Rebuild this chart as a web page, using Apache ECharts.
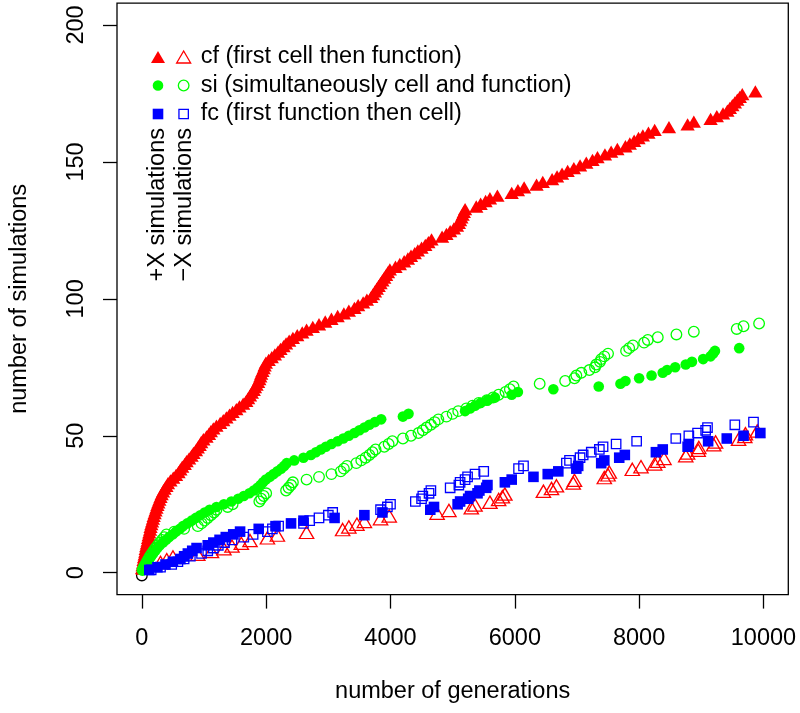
<!DOCTYPE html>
<html><head><meta charset="utf-8">
<script src="https://cdn.jsdelivr.net/npm/echarts@6/dist/echarts.min.js"></script>
<style>html,body{margin:0;padding:0;background:#fff}#c{width:800px;height:713px}</style>
</head><body><div id="c"></div>
<script>
// ---- tick labels ----
const xTicks = [0, 2000, 4000, 6000, 8000, 10000];
const yTicks = [0, 50, 100, 150, 200];

// ---- generation at which each successive simulation was counted ----
const cfPlusGen = [5,12,20,28,35,45,55,62,70,80,92,100,110,120,132,140,152,165,178,190,205,220,235,250,265,282,300,318,340,365,395,
  420,460,505,550,
  590,620,650,690,720,760,800,830,870,900,930,955,
  990,1040,1080,1110,1150,
  1200,1260,1310,1360,1410,
  1460,1520,1570,1630,1680,
  1710,1740,1770,1800,1820,1845,1870,1890,
  1905,1920,1940,1960,1975,1995,
  2040,2090,2140,2190,2230,2280,2320,2370,
  2430,2500,2580,2650,
  2750,2850,2950,3050,3150,
  3250,3330,3420,
  3480,3560,3620,3690,
  3720,3750,3780,3810,3840,3870,3900,3930,3960,3990,
  4080,4150,4220,4280,4330,4390,
  4440,4500,4560,4610,4660,
  4830,4900,4960,5020,5070,5100,5120,5140,5160,5180,5200,
  5380,5450,5530,5600,
  5720,
  5950,6050,6150,
  6350,6450,
  6600,6680,6760,6850,
  6950,7050,7150,
  7250,7330,
  7450,7550,7650,
  7780,7850,7920,7990,8060,8150,8250,
  8480,
  8780,8880,
  9150,9250,9350,
  9420,9460,9500,9540,9580,9620,9660,
  9870];
const cfMinusGen = [30,100,300,400,500,900,1120,1320,1450,1600,1740,2020,2180,2650,3230,3330,3460,3580,3840,3980,
  4750,4940,5300,5360,5600,5740,5800,5840,6460,6590,6670,6940,6960,7440,7500,7520,7890,8030,8250,8300,8400,
  8750,8780,8950,8960,9200,9230,9600,9700,9710,9900];
const siPlusGen = [15,40,65,90,120,150,180,215,250,290,
  340,390,440,500,550,610,660,
  730,800,870,940,1010,1090,
  1200,1320,1440,
  1550,1640,1730,
  1800,1860,1910,1950,1995,
  2060,2120,2180,2240,2290,2330,
  2450,2600,2720,2800,2880,2960,3050,
  3150,3240,3330,3420,3500,3580,3660,3750,
  3850,
  4200,4290,
  5200,5280,5360,5450,5560,5680,
  5950,6050,
  6620,
  7350,7700,7780,8000,8200,8380,8450,8580,8750,8850,9030,9150,9190,9220,9610];
const siMinusGen = [10,30,55,80,105,130,160,190,220,255,290,325,360,395,
  520,680,900,
  960,1010,1060,1110,1160,1200,
  1380,1460,
  1890,1920,1960,2000,
  2320,2360,2400,2430,
  2650,2850,3050,
  3200,3250,3300,
  3450,3530,3600,
  3660,3710,3760,
  3900,3970,4030,
  4200,4330,4450,
  4520,4580,4650,4710,4770,
  4900,5000,5090,
  5220,5320,5420,
  5550,5650,5740,
  5850,5920,5980,
  6400,6810,6960,6990,7070,7200,7290,7310,7370,7390,7440,7500,7790,7840,7900,8080,8140,8300,8600,8880,9570,9680,9930];
const fcPlusGen = [120,250,380,500,620,680,740,810,880,1060,1150,1250,1350,1470,1580,1880,2150,2400,2600,3100,3580,3870,
  4640,4700,5080,5120,5250,5280,5400,5430,5540,5560,
  5840,5950,6300,6530,6700,6990,7020,7390,7440,7680,7770,8270,8380,8780,8800,9110,9410,9680,9950];
const fcMinusGen = [150,300,480,580,680,780,960,1060,1150,1230,1330,1450,1640,1790,2020,2100,2200,2600,2700,2850,3000,3070,
  3840,3950,4000,4400,4500,4520,4620,4650,4960,5100,5120,5200,5240,5360,5500,
  6060,6140,6830,6880,7050,7100,7230,7360,7420,7630,7960,8590,8800,8940,9070,9100,9540,9840];
const originPoint = [[0, -1]];

const legendText = {
  'cf \u2212X': 'cf (first cell then function)',
  'si \u2212X': 'si (simultaneously cell and function)',
  'fc \u2212X': 'fc (first function then cell)'
};

// cumulative count: k-th simulation at its generation
function cumulative(gens) { return gens.map((g, i) => [g, i + 1]); }

const FONT = '"Liberation Sans", Arial, Helvetica, sans-serif';
const FS = 23.5;
const RED = '#ff0000', GREEN = '#00ff00', BLUE = '#0000ff';
const LW = 1.3;
const NONE = 'rgba(0,0,0,0)';

function filled(name, data, symbol, size, color, offset) {
  return { name, type: 'scatter', data, symbol, symbolSize: size, symbolOffset: offset || [0, 0],
    itemStyle: { color, opacity: 1 }, silent: true, animation: false };
}
function open(name, data, symbol, size, color, offset) {
  return { name, type: 'scatter', data, symbol, symbolSize: size, symbolOffset: offset || [0, 0],
    itemStyle: { color: NONE, borderColor: color, borderWidth: LW, opacity: 1 }, silent: true, animation: false };
}

const triA = 'path://M0,0M14,12M7,0L14,12L0,12Z';
const cirA = 'path://M0,0M14,12M1.7,6a5.3,5.3 0 1,0 10.6,0a5.3,5.3 0 1,0 -10.6,0Z';
const sqA  = 'path://M0,0M14,12M1.7,0.7h10.6v10.6h-10.6Z';
const triB = 'path://M0,0M19,12M7,0L14,12L0,12Z';
const cirB = 'path://M0,0M19,12M1.7,6a5.3,5.3 0 1,0 10.6,0a5.3,5.3 0 1,0 -10.6,0Z';
const sqB  = 'path://M0,0M19,12M2.3,1.3h9.4v9.4h-9.4Z';

const plain = (v) => String(v);

const chart = echarts.init(document.getElementById('c'), null, { renderer: 'canvas' });
chart.setOption({
  animation: false,
  backgroundColor: '#fff',
  grid: { left: 113.3, right: 11.7, top: 3.1, bottom: 118.4, show: true, borderColor: '#000', borderWidth: LW },
  xAxis: {
    type: 'value', min: -400, max: 10400,
    name: 'number of generations', nameLocation: 'middle', nameGap: 85,
    nameTextStyle: { fontSize: FS, fontFamily: FONT, color: '#000' },
    axisLine: { show: false, onZero: false },
    axisTick: { show: true, inside: false, length: 14, customValues: xTicks, lineStyle: { color: '#000', width: LW } },
    axisLabel: { customValues: xTicks, formatter: plain, fontSize: FS, fontFamily: FONT, color: '#000', margin: 32 },
    splitLine: { show: false }
  },
  yAxis: {
    type: 'value', min: -8, max: 208,
    name: 'number of simulations', nameLocation: 'middle', nameGap: 85, nameRotate: 90,
    nameTextStyle: { fontSize: FS, fontFamily: FONT, color: '#000' },
    axisLine: { show: false, onZero: false },
    axisTick: { show: true, inside: false, length: 14, customValues: yTicks, lineStyle: { color: '#000', width: LW } },
    axisLabel: { customValues: yTicks, formatter: plain, rotate: 90, fontSize: FS, fontFamily: FONT, color: '#000', margin: 28 },
    splitLine: { show: false }
  },
  legend: [
    {
      orient: 'vertical', left: 151, top: 43, padding: 0, itemGap: 0.5, itemWidth: 14, itemHeight: 12,
      selectedMode: false, formatter: () => ' ',
      textStyle: { fontSize: FS, lineHeight: 28, fontFamily: FONT, color: '#000' },
      data: [
        { name: 'cf +X', icon: triA, itemStyle: { color: RED, borderWidth: 0, opacity: 1 } },
        { name: 'si +X', icon: cirA, itemStyle: { color: GREEN, borderWidth: 0, opacity: 1 } },
        { name: 'fc +X', icon: sqA, itemStyle: { color: BLUE, borderWidth: 0, opacity: 1 } }
      ]
    },
    {
      orient: 'vertical', left: 176, top: 43, padding: 0, itemGap: 0.5, itemWidth: 19, itemHeight: 12,
      selectedMode: false, formatter: (n) => legendText[n],
      textStyle: { fontSize: FS, lineHeight: 28, fontFamily: FONT, color: '#000' },
      data: [
        { name: 'cf \u2212X', icon: triB, itemStyle: { color: NONE, borderColor: RED, borderWidth: LW, opacity: 1 } },
        { name: 'si \u2212X', icon: cirB, itemStyle: { color: NONE, borderColor: GREEN, borderWidth: LW, opacity: 1 } },
        { name: 'fc \u2212X', icon: sqB, itemStyle: { color: NONE, borderColor: BLUE, borderWidth: LW, opacity: 1 } }
      ]
    }
  ],
  graphic: [
    { type: 'text', x: 158, y: 128, rotation: Math.PI / 2, silent: true,
      style: { text: '+X simulations', fontSize: FS, fontFamily: FONT, fill: '#000', align: 'right', verticalAlign: 'middle' } },
    { type: 'text', x: 185, y: 128, rotation: Math.PI / 2, silent: true,
      style: { text: '\u2212X simulations', fontSize: FS, fontFamily: FONT, fill: '#000', align: 'right', verticalAlign: 'middle' } }
  ],
  series: [
    open('origin', originPoint, 'circle', 10.6, '#000'),
    filled('cf +X', cumulative(cfPlusGen), 'triangle', [14.3, 12.3], RED, [0, -2]),
    open('cf \u2212X', cumulative(cfMinusGen), 'triangle', [14.3, 12.3], RED, [0, -2]),
    filled('si +X', cumulative(siPlusGen), 'circle', 10.6, GREEN),
    open('si \u2212X', cumulative(siMinusGen), 'circle', 10.6, GREEN),
    filled('fc +X', cumulative(fcPlusGen), 'rect', 10.6, BLUE),
    open('fc \u2212X', cumulative(fcMinusGen), 'rect', 9.4, BLUE)
  ]
});
</script>
</body></html>
